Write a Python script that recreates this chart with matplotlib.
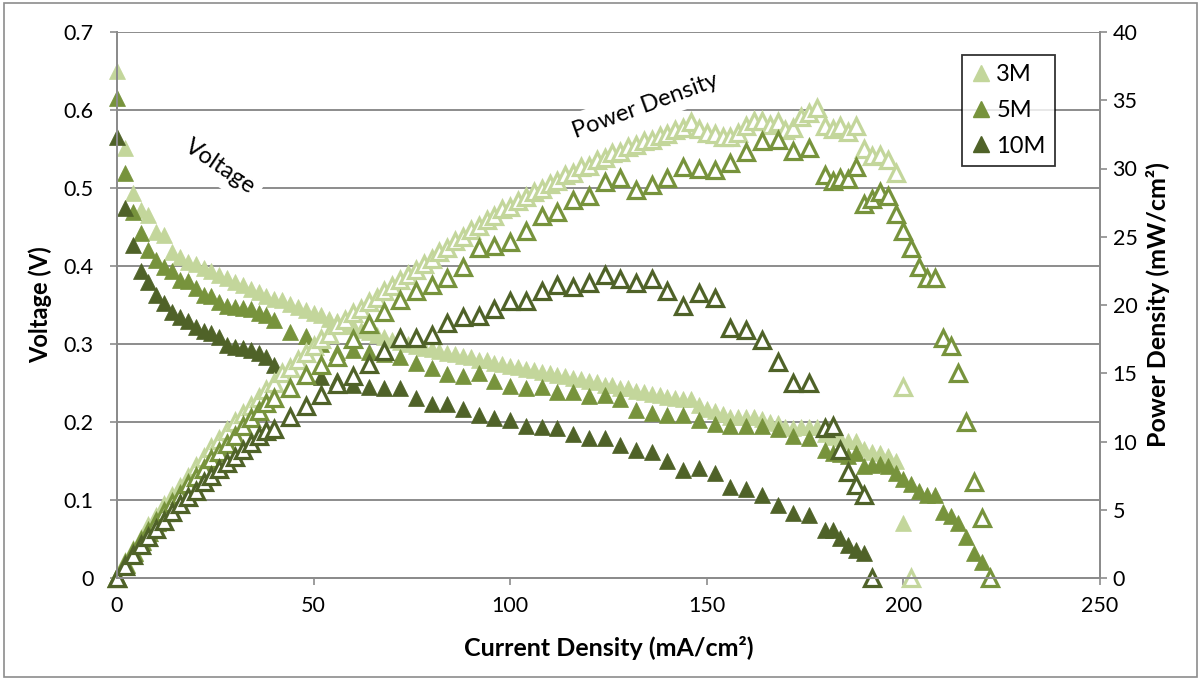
import matplotlib.pyplot as plt
from matplotlib.lines import Line2D
from matplotlib.patches import Rectangle

# ---- data ----
current_3m = [0, 2, 4, 6, 8, 10, 12, 14, 16, 18,
              20, 22, 24, 26, 28, 30, 32, 34, 36, 38,
              40, 42, 44, 46, 48, 50, 52, 54, 56, 58,
              60, 62, 64, 66, 68, 70, 72, 74, 76, 78,
              80, 82, 84, 86, 88, 90, 92, 94, 96, 98,
              100, 102, 104, 106, 108, 110, 112, 114, 116, 118,
              120, 122, 124, 126, 128, 130, 132, 134, 136, 138,
              140, 142, 144, 146, 148, 150, 152, 154, 156, 158,
              160, 162, 164, 166, 168, 170, 172, 174, 176, 178,
              180, 182, 184, 186, 188, 190, 192, 194, 196, 198,
              200, 202]
voltage_3m = [0.650, 0.551, 0.494, 0.472, 0.466, 0.444, 0.440, 0.418, 0.412, 0.405,
              0.403, 0.398, 0.394, 0.388, 0.384, 0.379, 0.376, 0.370, 0.367, 0.362,
              0.358, 0.356, 0.351, 0.347, 0.344, 0.340, 0.337, 0.332, 0.330, 0.325,
              0.323, 0.318, 0.316, 0.311, 0.309, 0.305, 0.303, 0.300, 0.298, 0.295,
              0.293, 0.291, 0.288, 0.287, 0.284, 0.283, 0.280, 0.279, 0.276, 0.275,
              0.272, 0.271, 0.268, 0.267, 0.264, 0.263, 0.260, 0.259, 0.256, 0.255,
              0.252, 0.251, 0.248, 0.247, 0.244, 0.243, 0.240, 0.239, 0.236, 0.235,
              0.232, 0.231, 0.229, 0.229, 0.222, 0.217, 0.214, 0.210, 0.207, 0.206,
              0.207, 0.207, 0.204, 0.200, 0.199, 0.193, 0.192, 0.194, 0.194, 0.193,
              0.184, 0.181, 0.180, 0.176, 0.176, 0.165, 0.161, 0.160, 0.156, 0.150,
              0.070, 0.000]
power_3m = [0.0, 1.1, 2.0, 2.8, 3.7, 4.4, 5.3, 5.9, 6.6, 7.3,
            8.1, 8.8, 9.5, 10.1, 10.8, 11.4, 12.0, 12.6, 13.2, 13.8,
            14.3, 15.0, 15.4, 16.0, 16.5, 17.0, 17.5, 17.9, 18.5, 18.9,
            19.4, 19.7, 20.2, 20.5, 21.0, 21.4, 21.8, 22.2, 22.6, 23.0,
            23.4, 23.9, 24.2, 24.7, 25.0, 25.5, 25.8, 26.2, 26.5, 27.0,
            27.2, 27.6, 27.9, 28.3, 28.5, 28.9, 29.1, 29.5, 29.7, 30.1,
            30.2, 30.6, 30.8, 31.1, 31.2, 31.6, 31.7, 32.0, 32.1, 32.4,
            32.5, 32.8, 33.0, 33.4, 32.9, 32.6, 32.5, 32.3, 32.3, 32.6,
            33.1, 33.5, 33.5, 33.2, 33.4, 32.8, 33.0, 33.8, 34.1, 34.4,
            33.1, 32.9, 33.1, 32.7, 33.1, 31.4, 30.9, 31.0, 30.6, 29.7,
            14.0, 0.0]

current_5m = [0, 2, 4, 6, 8, 10, 12, 14, 16, 18, 20, 22, 24, 26, 28, 30, 32, 34, 36, 38, 40,
              44, 48, 52, 56, 60, 64, 68, 72, 76, 80,
              84, 88, 92, 96, 100, 104, 108, 112, 116, 120,
              124, 128, 132, 136, 140, 144, 148, 152, 156, 160,
              164, 168, 172, 176,
              180, 182, 184, 186, 188, 190, 192, 194, 196, 198, 200,
              202, 204, 206, 208, 210, 212, 214, 216, 218, 220, 222]
voltage_5m = [0.615, 0.519, 0.469, 0.442, 0.420, 0.408, 0.399, 0.393, 0.382, 0.381, 0.372,
              0.363, 0.361, 0.354, 0.349, 0.348, 0.346, 0.345, 0.340, 0.337, 0.331,
              0.316, 0.310, 0.300, 0.290, 0.292, 0.290, 0.287, 0.283, 0.276, 0.269,
              0.262, 0.259, 0.263, 0.253, 0.246, 0.244, 0.245, 0.239, 0.239, 0.233,
              0.234, 0.229, 0.215, 0.212, 0.209, 0.209, 0.203, 0.197, 0.195, 0.195,
              0.195, 0.191, 0.182, 0.179,
              0.164, 0.160, 0.159, 0.157, 0.160, 0.144, 0.145, 0.146, 0.143, 0.135, 0.127,
              0.120, 0.112, 0.107, 0.106, 0.084, 0.080, 0.070, 0.053, 0.032, 0.020, 0.000]
power_5m = [0.0, 1.0, 1.9, 2.7, 3.4, 4.1, 4.8, 5.5, 6.1, 6.9, 7.4,
            8.0, 8.7, 9.2, 9.8, 10.4, 11.1, 11.7, 12.2, 12.8, 13.2,
            13.9, 14.9, 15.6, 16.2, 17.5, 18.6, 19.5, 20.4, 21.0, 21.5,
            22.0, 22.8, 24.2, 24.3, 24.6, 25.4, 26.5, 26.8, 27.7, 28.0,
            29.0, 29.3, 28.4, 28.8, 29.3, 30.1, 30.0, 29.9, 30.4, 31.2,
            32.0, 32.1, 31.3, 31.5,
            29.5, 29.1, 29.3, 29.2, 30.1, 27.4, 27.8, 28.3, 28.0, 26.7, 25.4,
            24.2, 22.8, 22.0, 22.0, 17.6, 17.0, 15.0, 11.4, 7.0, 4.4, 0.0]

current_10m = [0, 2, 4, 6, 8, 10, 12, 14, 16, 18, 20, 22, 24, 26, 28, 30, 32, 34, 36, 38, 40,
               44, 48, 52, 56, 60, 64, 68, 72, 76, 80,
               84, 88, 92, 96, 100, 104, 108, 112, 116, 120,
               124, 128, 132, 136, 140, 144, 148, 152, 156, 160,
               164, 168, 172, 176,
               180, 182, 184, 186, 188, 190, 192]
voltage_10m = [0.565, 0.474, 0.427, 0.394, 0.380, 0.363, 0.352, 0.341, 0.335, 0.330, 0.322,
               0.317, 0.314, 0.309, 0.299, 0.296, 0.295, 0.292, 0.288, 0.283, 0.273,
               0.268, 0.262, 0.258, 0.254, 0.247, 0.245, 0.244, 0.244, 0.231, 0.223,
               0.223, 0.217, 0.209, 0.205, 0.203, 0.195, 0.194, 0.192, 0.184, 0.180,
               0.179, 0.171, 0.164, 0.161, 0.150, 0.138, 0.141, 0.135, 0.117, 0.114,
               0.106, 0.094, 0.083, 0.081,
               0.061, 0.061, 0.051, 0.042, 0.036, 0.032, 0.000]
power_10m = [0.0, 0.9, 1.7, 2.4, 3.0, 3.6, 4.2, 4.8, 5.4, 5.9, 6.4,
             7.0, 7.5, 8.0, 8.4, 8.9, 9.4, 9.9, 10.4, 10.8, 10.9,
             11.8, 12.6, 13.4, 14.2, 14.8, 15.7, 16.6, 17.6, 17.6, 17.8,
             18.7, 19.1, 19.2, 19.7, 20.3, 20.3, 21.0, 21.5, 21.3, 21.6,
             22.2, 21.9, 21.6, 21.9, 21.0, 19.9, 20.9, 20.5, 18.3, 18.2,
             17.4, 15.8, 14.3, 14.3,
             11.0, 11.1, 9.4, 7.8, 6.8, 6.1, 0.0]

series_labels = ["3M", "5M", "10M"]
series_colors = ["#c3d69b", "#77933c", "#4f6228"]

plt.rcParams['font.family'] = ['Lato', 'DejaVu Sans']
grid_color = "#8c8c8c"

fig = plt.figure(figsize=(12.01, 6.8), dpi=100)
ax = fig.add_axes([117 / 1201, 1 - 578 / 680, 983 / 1201, 546 / 680])
ax2 = ax.twinx()

currents = [current_3m, current_5m, current_10m]
voltages = [voltage_3m, voltage_5m, voltage_10m]
powers = [power_3m, power_5m, power_10m]

for cur, volt, col in zip(currents, voltages, series_colors):
    ax.plot(cur, volt, linestyle='none', marker='^', markersize=12,
            color=col, markeredgecolor=col, markeredgewidth=0.5, clip_on=False)

for cur, pw, col in zip(currents, powers, series_colors):
    ax2.plot(cur, pw, linestyle='none', marker='^', markersize=11,
             markerfacecolor='white', markeredgecolor=col, markeredgewidth=2.3,
             clip_on=False)

ax.set_xlim(0, 250)
ax.set_ylim(0, 0.7)
ax2.set_ylim(0, 40)
ax.set_xticks([0, 50, 100, 150, 200, 250])
ax.set_yticks([0, 0.1, 0.2, 0.3, 0.4, 0.5, 0.6, 0.7])
ax.set_yticklabels(["0", "0.1", "0.2", "0.3", "0.4", "0.5", "0.6", "0.7"])
ax2.set_yticks([0, 5, 10, 15, 20, 25, 30, 35, 40])

ax.grid(axis='y', color=grid_color, linewidth=1.4)
ax.set_axisbelow(True)

for a in (ax, ax2):
    a.spines['top'].set_visible(False)
    for side in ('left', 'right', 'bottom'):
        a.spines[side].set_color(grid_color)
        a.spines[side].set_linewidth(1.4)
    a.tick_params(colors=grid_color, labelcolor='black', labelsize=15.5,
                  direction='out', length=5, width=1.2)
ax.tick_params(axis='y', pad=12)
ax.tick_params(axis='x', pad=8)
ax2.tick_params(axis='y', pad=4)

ax.set_xlabel("Current Density (mA/cm²)", fontsize=18, fontweight='bold', labelpad=14)
ax.set_ylabel("Voltage (V)", fontsize=17, fontweight='bold', labelpad=8)
ax2.set_ylabel("Power Density (mW/cm²)", fontsize=18, fontweight='bold', labelpad=6)

box = dict(facecolor='white', edgecolor='none', pad=5)
ax2.text(26.2, 30.1, "Voltage", fontsize=17, rotation=-34,
         ha='center', va='center', bbox=box)
ax2.text(134.4, 34.6, "Power Density", fontsize=17, rotation=20,
         ha='center', va='center', bbox=box)

handles = [Line2D([], [], linestyle='none', marker='^', markersize=12,
                  color=c) for c in series_colors]
leg = ax2.legend(handles, series_labels, loc='upper left',
                 bbox_to_anchor=(0.8596, 0.958), borderaxespad=0, fontsize=17,
                 frameon=True, fancybox=False, handlelength=0.8, handletextpad=0.25,
                 labelspacing=0.62, borderpad=0.4)
leg.get_frame().set_edgecolor('black')
leg.get_frame().set_linewidth(1.3)

fig.patches.append(Rectangle((0.003, 0.004), 0.994, 0.992, transform=fig.transFigure,
                             fill=False, edgecolor='#8c8c8c', linewidth=1.2))

fig.savefig("out.png", dpi=100)
